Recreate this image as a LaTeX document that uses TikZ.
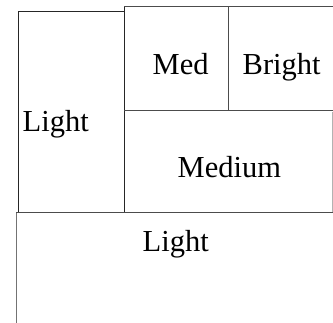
\documentclass[tikz,border=0pt]{standalone}
\usepackage{fontspec}
\setmainfont{Liberation Serif}
\begin{document}
\begin{tikzpicture}[x=1pt,y=-1pt,
  edge/.style={draw=black!70,line width=1pt},
  faint/.style={draw=black!30,line width=1pt},
  lbl/.style={anchor=base west,inner sep=0pt,font=\fontsize{30.5}{36}\selectfont}]
\useasboundingbox (0,0) rectangle (333,323);
% left tall box
\draw[edge,draw=black!85] (18,213) -- (18,12) -- (124,12);
\draw[edge,draw=black!85] (124,7) -- (124,213);
% top band
\draw[edge] (124,7) -- (333,7);
\draw[edge] (228,7) -- (228,111);
\draw[edge] (124,111) -- (333,111);
\draw[faint] (332,112) -- (332,213);
% bottom box
\draw[edge] (16,213) -- (333,213);
\draw[edge,draw=black!55] (16,213) -- (16,323);
% labels
\node[lbl] (l1) at (22.5,132) {Light};
\node[lbl] (m1) at (152.5,75) {Med};
\node[lbl] (b1) at (242.5,75) {Bright};
\node[lbl] (m2) at (177.5,178) {Medium};
\node[lbl] (l2) at (142.5,252) {Light};
\end{tikzpicture}
\end{document}
